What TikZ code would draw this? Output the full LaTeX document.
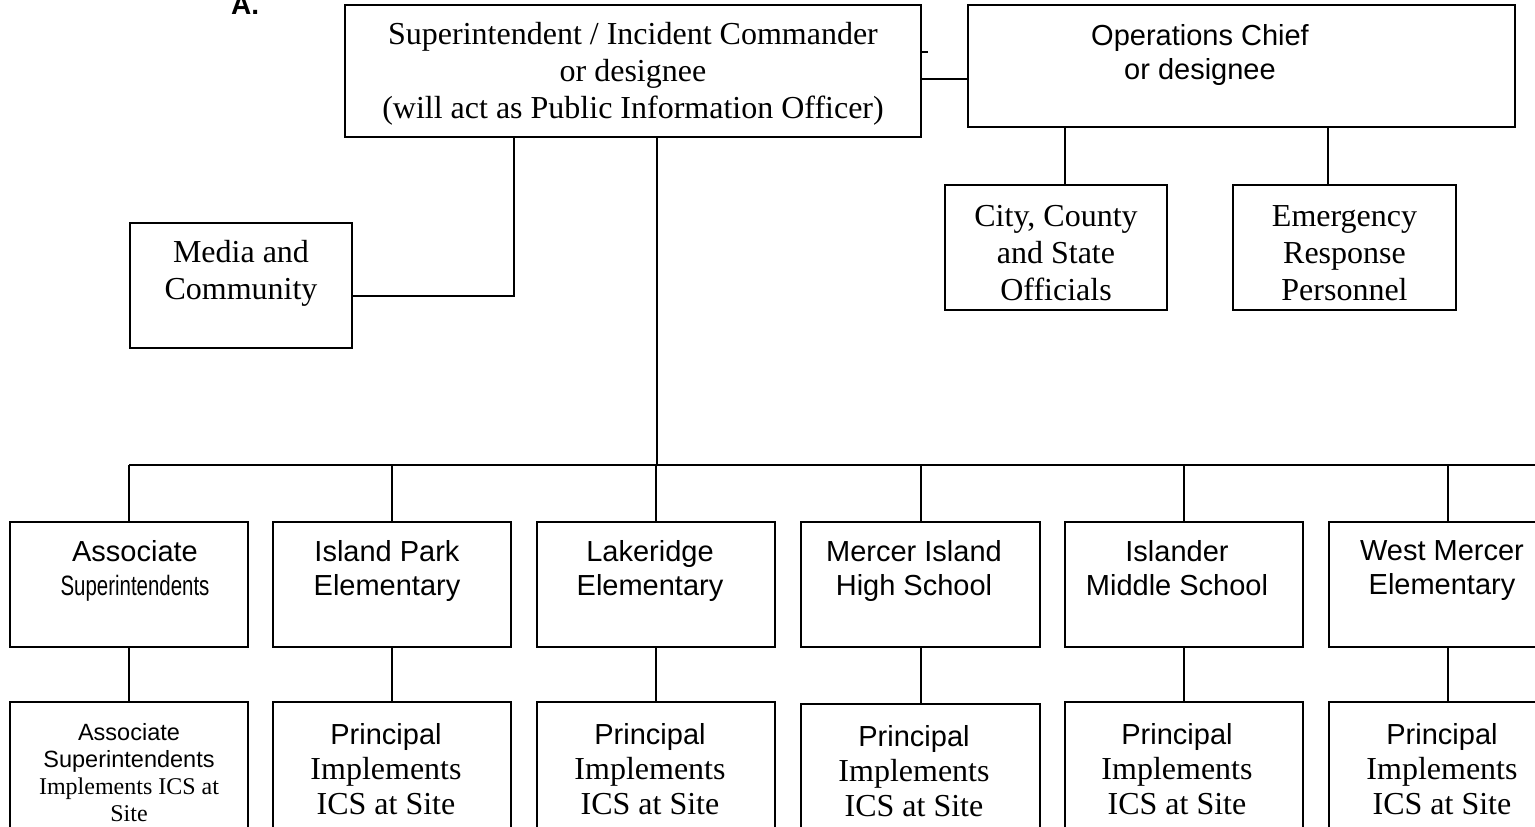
\documentclass[tikz,border=0pt]{standalone}
\usepackage{fontspec}
\setmainfont{Liberation Serif}
\setsansfont{Liberation Sans}
\usetikzlibrary{positioning}
\tikzset{
  box/.style={draw, line width=2pt, inner sep=0pt},
  wire/.style={line width=2pt},
  txtrm/.style={font=\fontsize{32}{37}\selectfont, align=center, inner sep=0pt},
  txtsf/.style={font=\sffamily\fontsize{29}{34}\selectfont, align=center, inner sep=0pt},
  txtmix/.style={font=\fontsize{32}{35}\selectfont, align=center, inner sep=0pt},
  txtsmall/.style={font=\fontsize{24}{27}\selectfont, align=center, inner sep=0pt},
}
\begin{document}
\begin{tikzpicture}[x=1pt, y=-1pt]
\useasboundingbox (0,0) rectangle (1535,827);
\node[font=\sffamily\bfseries\fontsize{28}{30}\selectfont, anchor=base west, inner sep=0pt] (lblA) at (231,14) {A.};
% top level
\node[box, minimum width=576, minimum height=132] (sup) at (633,71) {};
\node[txtrm] (supT) at (633,74) {Superintendent / Incident Commander\\or designee\\(will act as Public Information Officer)};
\node[box, minimum width=547, minimum height=122] (ops) at (1241.5,66) {};
\node[txtsf] (opsT) at (1200,55) {Operations Chief\\or designee};
\coordinate (tickE) at (928,52);
\draw[wire] (sup.east |- tickE) -- (tickE);
\draw[wire] (sup.east |- 0,79) -- (ops.west |- 0,79);
% officials
\node[box, minimum width=222, minimum height=125] (city) at (1056,247.5) {};
\node[txtrm] (cityT) at (1056,253) {City, County\\and State\\Officials};
\node[box, minimum width=223, minimum height=125] (emer) at (1344.5,247.5) {};
\node[txtrm] (emerT) at (1344.5,253) {Emergency\\Response\\Personnel};
\draw[wire] (ops.south -| 1065,0) -- (city.north -| 1065,0);
\draw[wire] (ops.south -| 1328,0) -- (emer.north -| 1328,0);
% media
\node[box, minimum width=222, minimum height=125] (media) at (241,285.5) {};
\node[txtrm] (mediaT) at (241,273) {Media and\\Community};
\draw[wire] (sup.south -| 514,0) |- (media.east |- 0,296);
% bus
\coordinate (busL) at (129,465);
\coordinate (busR) at (1535,465);
\draw[wire] (busL) -- (busR);
\draw[wire] (sup.south -| 657,0) -- (busL -| 657,0);
% schools
\node[box, minimum width=238, minimum height=125] (sch1) at (129,584.5) {};
\node[txtsf] (sch1T) at (135,571) {Associate\\{\fontsize{28}{34}\selectfont\scalebox{0.73}[1]{Superintendents}}};
\node[box, minimum width=238, minimum height=125] (sch2) at (392,584.5) {};
\node[txtsf] (sch2T) at (387,571) {Island Park\\Elementary};
\node[box, minimum width=238, minimum height=125] (sch3) at (656,584.5) {};
\node[txtsf] (sch3T) at (650,571) {Lakeridge\\Elementary};
\node[box, minimum width=239, minimum height=125] (sch4) at (920.5,584.5) {};
\node[txtsf] (sch4T) at (914,571) {Mercer Island\\High School};
\node[box, minimum width=238, minimum height=125] (sch5) at (1184,584.5) {};
\node[txtsf] (sch5T) at (1177,568) {Islander\\Middle School};
\node[box, minimum width=238, minimum height=125] (sch6) at (1448,584.5) {};
\node[txtsf] (sch6T) at (1442,571) {West Mercer\\Elementary};
\draw[wire] (busL -| sch1.north) -- (sch1.north);
\draw[wire] (busL -| sch2.north) -- (sch2.north);
\draw[wire] (busL -| sch3.north) -- (sch3.north);
\draw[wire] (busL -| sch4.north) -- (sch4.north);
\draw[wire] (busL -| sch5.north) -- (sch5.north);
\draw[wire] (busL -| sch6.north) -- (sch6.north);
% site leads
\node[box, minimum width=238, minimum height=131] (lead1) at (129,767.5) {};
\node[txtsmall] (lead1T) at (129,773) {{\sffamily\fontsize{23.5}{27}\selectfont Associate}\\{\sffamily\fontsize{23.5}{27}\selectfont Superintendents}\\Implements ICS at\\Site};
\node[box, minimum width=238, minimum height=131] (lead2) at (392,767.5) {};
\node[txtmix] (lead2T) at (386,769) {{\sffamily\fontsize{29}{35}\selectfont Principal}\\Implements\\ICS at Site};
\node[box, minimum width=238, minimum height=131] (lead3) at (656,767.5) {};
\node[txtmix] (lead3T) at (650,769) {{\sffamily\fontsize{29}{35}\selectfont Principal}\\Implements\\ICS at Site};
\node[box, minimum width=239, minimum height=131] (lead4) at (920.5,769.5) {};
\node[txtmix] (lead4T) at (914,771) {{\sffamily\fontsize{29}{35}\selectfont Principal}\\Implements\\ICS at Site};
\node[box, minimum width=238, minimum height=131] (lead5) at (1184,767.5) {};
\node[txtmix] (lead5T) at (1177,769) {{\sffamily\fontsize{29}{35}\selectfont Principal}\\Implements\\ICS at Site};
\node[box, minimum width=238, minimum height=131] (lead6) at (1448,767.5) {};
\node[txtmix] (lead6T) at (1442,769) {{\sffamily\fontsize{29}{35}\selectfont Principal}\\Implements\\ICS at Site};
\draw[wire] (sch1.south) -- (lead1.north);
\draw[wire] (sch2.south) -- (lead2.north);
\draw[wire] (sch3.south) -- (lead3.north);
\draw[wire] (sch4.south) -- (lead4.north);
\draw[wire] (sch5.south) -- (lead5.north);
\draw[wire] (sch6.south) -- (lead6.north);
\end{tikzpicture}
\end{document}
